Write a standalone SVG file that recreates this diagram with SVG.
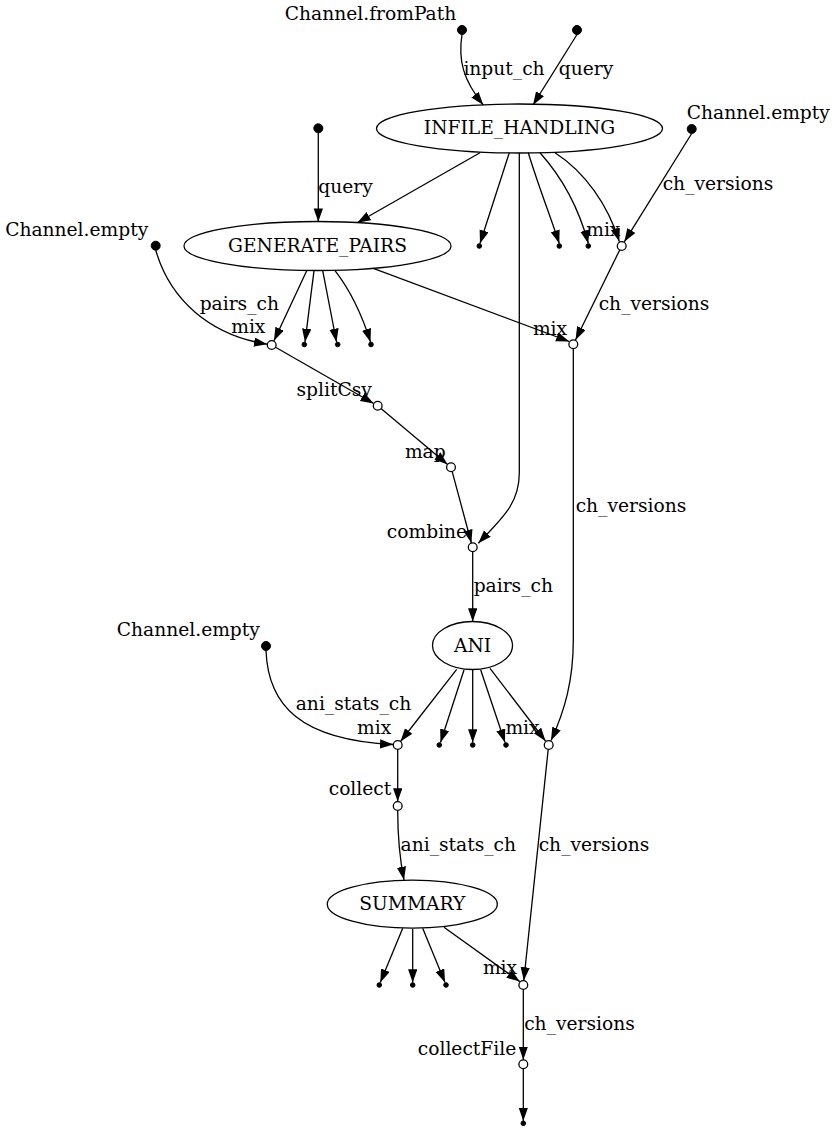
<svg xmlns="http://www.w3.org/2000/svg" width="837" height="1131" viewBox="0 0 837 1131">
<defs>
<marker id="arr" markerUnits="userSpaceOnUse" markerWidth="14" markerHeight="10" refX="13.3" refY="4.67" orient="auto">
<path d="M0,0 L13.3,4.67 L0,9.33 z" fill="#000"/>
</marker>
<style>
text{font-family:"DejaVu Serif","Liberation Serif",serif;font-size:18.67px;fill:#000;text-anchor:middle}
.e{fill:none;stroke:#000;stroke-width:1.3;marker-end:url(#arr)}
.proc{fill:none;stroke:#000;stroke-width:1.3}
.src{fill:#000;stroke:#000;stroke-width:1}
.end{fill:#000;stroke:#000;stroke-width:1}
.op{fill:#fff;stroke:#000;stroke-width:1.3}
</style>
</defs>
<rect width="837" height="1131" fill="#fff"/>
<g id="connectors">
<path class="e" d="M462,34.5 C458,60 463,80 483.3,105"/>
<text x="504" y="75">input_ch</text>
<path class="e" d="M577,34.5 L533,105"/>
<text x="586" y="75">query</text>
<path class="e" d="M318.3,133 L318.3,221.7"/>
<text x="345.5" y="192.7">query</text>
<path class="e" d="M480,152.7 L357.3,222.7"/>
<path class="e" d="M509.3,152.7 L480,243.5"/>
<path class="e" d="M519.3,152.7 L519.3,473 C519.3,505 500,520 478.3,543.3"/>
<path class="e" d="M528.3,152.7 C538,185 550,215 559.3,243.5"/>
<path class="e" d="M540,152.7 C560,175 578,205 588.3,243.5"/>
<path class="e" d="M555,152.7 C585,172 608,205 619.3,241.6"/>
<path class="e" d="M691.7,133.5 L624.3,241.8"/>
<text x="718" y="190">ch_versions</text>
<path class="e" d="M619.7,250 L575.5,340"/>
<text x="654" y="310">ch_versions</text>
<path class="e" d="M155.7,250 C170,300 210,335 267.3,344.2"/>
<text x="239.3" y="310">pairs_ch</text>
<path class="e" d="M306.7,270.7 L274,340.8"/>
<path class="e" d="M314,270.7 L305,342"/>
<path class="e" d="M322.7,270.7 L336.5,342"/>
<path class="e" d="M335,270.7 C350,290 362,315 370.5,342"/>
<path class="e" d="M373.3,268.3 L569.3,341.5"/>
<path class="e" d="M275.5,347.2 L373.7,403.5"/>
<path class="e" d="M381,408.5 L447.6,464.5"/>
<path class="e" d="M452.2,471.6 L471.4,543"/>
<path class="e" d="M573.3,348.7 L573.3,640 C573.3,680 565,710 551,740.6"/>
<text x="631" y="511.7">ch_versions</text>
<path class="e" d="M472.7,551.7 L472.7,621.5"/>
<text x="513.3" y="591.7">pairs_ch</text>
<path class="e" d="M266,650.5 C268,705 300,740 393.3,744.5"/>
<text x="353.5" y="710">ani_stats_ch</text>
<path class="e" d="M456.7,669.3 L400.5,741.5"/>
<path class="e" d="M464,670 L440.5,742.5"/>
<path class="e" d="M472.7,670 L472.7,742.5"/>
<path class="e" d="M480.7,670 L505,742.5"/>
<path class="e" d="M490,668.3 L545.5,741"/>
<path class="e" d="M397.7,749.5 L397.7,801.5"/>
<path class="e" d="M397.7,810.5 C397.7,840 400,860 404,880"/>
<text x="458.3" y="850.7">ani_stats_ch</text>
<path class="e" d="M548.2,749.5 L523.8,980.5"/>
<text x="594" y="850.7">ch_versions</text>
<path class="e" d="M402.7,928.3 L380.3,982.5"/>
<path class="e" d="M412.7,929 L412.7,982.5"/>
<path class="e" d="M422.7,928.3 L445,982.5"/>
<path class="e" d="M444,927.3 L519.8,981.6"/>
<path class="e" d="M523.3,989.5 L523.3,1059.8"/>
<text x="579.5" y="1030">ch_versions</text>
<path class="e" d="M523.3,1068.8 L523.3,1121"/>
</g>
<g id="n_fromPath"><circle class="src" cx="462" cy="30" r="4.5"/><text x="370.5" y="20">Channel.fromPath</text></g>
<g id="n_query1"><circle class="src" cx="577" cy="30" r="4.5"/></g>
<g id="n_query2"><circle class="src" cx="318.3" cy="128.3" r="4.5"/></g>
<g id="n_empty1"><circle class="src" cx="691.7" cy="129" r="4.5"/><text x="758.3" y="119">Channel.empty</text></g>
<g id="n_empty2"><circle class="src" cx="155.7" cy="245.7" r="4.5"/><text x="76.7" y="236">Channel.empty</text></g>
<g id="n_empty3"><circle class="src" cx="266" cy="646" r="4.5"/><text x="188.3" y="636">Channel.empty</text></g>
<g id="INFILE_HANDLING"><ellipse class="proc" cx="519.5" cy="128.5" rx="143" ry="24.5"/><text x="519.5" y="134">INFILE_HANDLING</text></g>
<g id="GENERATE_PAIRS"><ellipse class="proc" cx="317.5" cy="246" rx="133.5" ry="24.5"/><text x="317.5" y="251.5">GENERATE_PAIRS</text></g>
<g id="ANI"><ellipse class="proc" cx="472.5" cy="645.5" rx="40" ry="24"/><text x="472.5" y="651.7">ANI</text></g>
<g id="SUMMARY"><ellipse class="proc" cx="412.3" cy="904.2" rx="85" ry="24"/><text x="412.3" y="910.3">SUMMARY</text></g>
<g id="t1"><circle class="end" cx="479.3" cy="246" r="2.3"/></g>
<g id="t2"><circle class="end" cx="559.3" cy="246" r="2.3"/></g>
<g id="t3"><circle class="end" cx="588.3" cy="246" r="2.3"/></g>
<g id="t4"><circle class="end" cx="304.3" cy="344.5" r="2.3"/></g>
<g id="t5"><circle class="end" cx="337.7" cy="344.5" r="2.3"/></g>
<g id="t6"><circle class="end" cx="371" cy="344.5" r="2.3"/></g>
<g id="t7"><circle class="end" cx="439.3" cy="745" r="2.3"/></g>
<g id="t8"><circle class="end" cx="472.7" cy="745" r="2.3"/></g>
<g id="t9"><circle class="end" cx="506" cy="745" r="2.3"/></g>
<g id="t10"><circle class="end" cx="379.3" cy="985" r="2.3"/></g>
<g id="t11"><circle class="end" cx="412.7" cy="985" r="2.3"/></g>
<g id="t12"><circle class="end" cx="446" cy="985" r="2.3"/></g>
<g id="t13"><circle class="end" cx="523.3" cy="1123.3" r="2.3"/></g>
<g id="mix1"><circle class="op" cx="621.7" cy="246" r="4.4"/><text x="603.3" y="236">mix</text></g>
<g id="mix2"><circle class="op" cx="573.3" cy="344.3" r="4.4"/><text x="550" y="335">mix</text></g>
<g id="mix3"><circle class="op" cx="271.7" cy="345" r="4.4"/><text x="248.3" y="333.3">mix</text></g>
<g id="splitCsv"><circle class="op" cx="377.7" cy="405.7" r="4.4"/><text x="334.2" y="396">splitCsv</text></g>
<g id="map"><circle class="op" cx="451" cy="467.3" r="4.4"/><text x="425.3" y="458.3">map</text></g>
<g id="combine"><circle class="op" cx="472.7" cy="547.3" r="4.4"/><text x="427" y="538.3">combine</text></g>
<g id="mix4"><circle class="op" cx="397.7" cy="745" r="4.4"/><text x="374.2" y="734">mix</text></g>
<g id="mix5"><circle class="op" cx="548.7" cy="745" r="4.4"/><text x="522.5" y="734">mix</text></g>
<g id="collect"><circle class="op" cx="397.7" cy="806" r="4.4"/><text x="360" y="795">collect</text></g>
<g id="mix6"><circle class="op" cx="523.3" cy="985" r="4.4"/><text x="500" y="974">mix</text></g>
<g id="collectFile"><circle class="op" cx="523.3" cy="1064.3" r="4.4"/><text x="467" y="1055">collectFile</text></g>
</svg>
